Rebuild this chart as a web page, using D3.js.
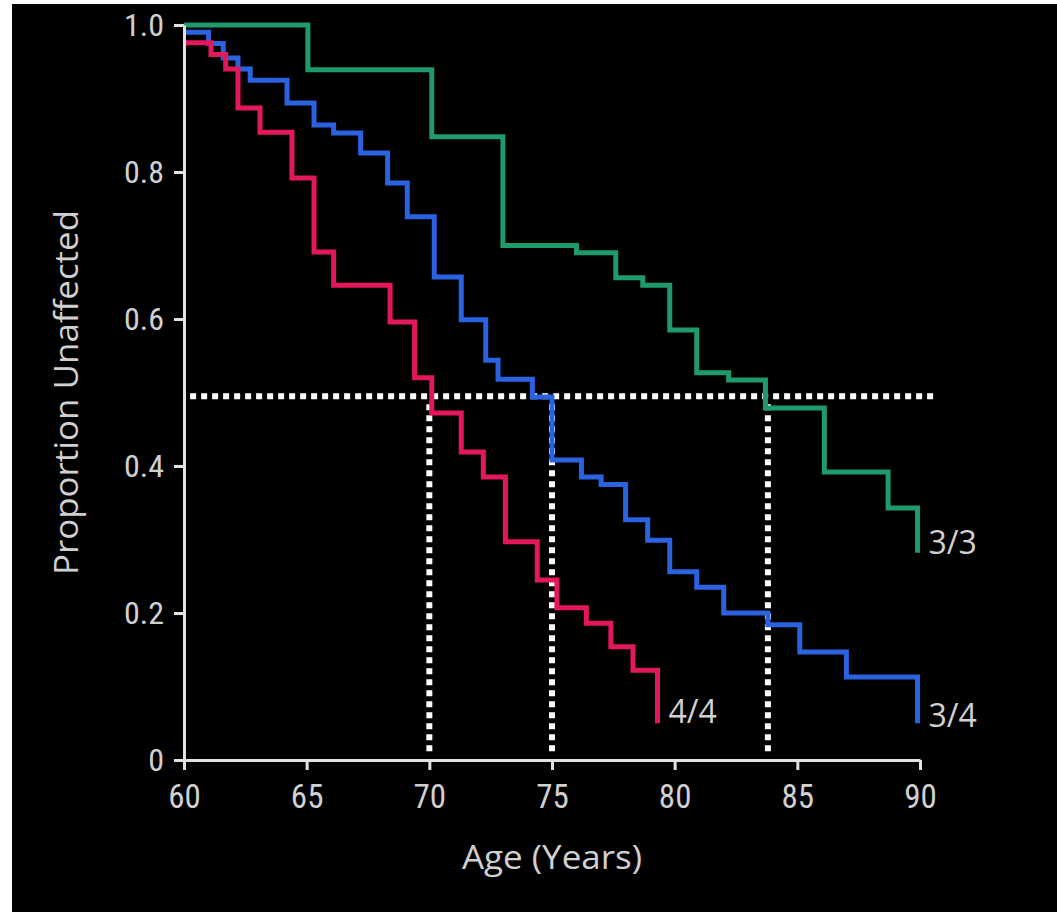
<!DOCTYPE html>
<html>
<head>
<meta charset="utf-8">
<script src="https://cdn.jsdelivr.net/npm/d3@7"></script>
<style>
  body { margin: 0; background: #fff; }
  svg { display: block; }
  .tick text { font-family: "Liberation Sans Narrow", "Roboto Condensed", "DejaVu Sans Condensed", sans-serif; fill: #d0d0d0; }
  .label { font-family: "Open Sans", "Noto Sans", sans-serif; fill: #d0d0d0; }
</style>
</head>
<body>
<div class="visholder"></div>
<script>
let width = 1057,
    height = 916;

// Kaplan-Meier style step data: age at which the proportion steps, new proportion
const ages44 = [60, 61.1, 61.7, 62.2, 63.1, 64.4, 65.3, 66.1, 68.4, 69.4, 70.1, 71.3, 72.2, 73.1, 74.4, 75.2, 76.4, 77.4, 78.3, 79.3];
const prop44 = [0.976, 0.96, 0.94, 0.887, 0.854, 0.792, 0.691, 0.646, 0.596, 0.52, 0.472, 0.419, 0.385, 0.297, 0.245, 0.207, 0.186, 0.154, 0.122, 0.05];

const ages34 = [60, 61.0, 61.6, 62.2, 62.7, 64.2, 65.3, 66.1, 67.2, 68.3, 69.1, 70.2, 71.3, 72.3, 72.8, 74.2, 75.0, 76.2, 77.0, 78.0, 78.9, 79.8, 80.9, 82.0, 83.8, 85.1, 87.0, 89.9];
const prop34 = [0.99, 0.975, 0.955, 0.94, 0.925, 0.894, 0.864, 0.853, 0.826, 0.785, 0.739, 0.657, 0.599, 0.544, 0.518, 0.494, 0.408, 0.385, 0.375, 0.327, 0.299, 0.256, 0.235, 0.2, 0.184, 0.147, 0.113, 0.05];

const ages33 = [60, 65.05, 70.1, 73.0, 76.0, 77.6, 78.7, 79.8, 80.9, 82.2, 83.7, 86.1, 88.7, 89.9];
const prop33 = [1.0, 0.939, 0.848, 0.70, 0.69, 0.656, 0.646, 0.585, 0.527, 0.517, 0.479, 0.392, 0.343, 0.282];

const seriesNames = ["4/4", "3/4", "3/3"];
const colors = ["#e3185a", "#2a62e0", "#1f9a6c"];

const xTicks = [60, 65, 70, 75, 80, 85, 90];
const yTicks = [0, 0.2, 0.4, 0.6, 0.8, 1.0];

// median ages, read where each curve crosses the dotted half line
const halfLevel = 0.495;
const medianAges = [70, 75, 83.8];

var series = [
    { name: seriesNames[0], color: colors[0], values: ages44.map((a, i) => [a, prop44[i]]) },
    { name: seriesNames[1], color: colors[1], values: ages34.map((a, i) => [a, prop34[i]]) },
    { name: seriesNames[2], color: colors[2], values: ages33.map((a, i) => [a, prop33[i]]) }
];

var svg = d3.select(".visholder")
    .append("svg")
    .attr("width", width)
    .attr("height", height);

svg.append("rect")
    .attr("x", 12)
    .attr("y", 4)
    .attr("width", width - 12)
    .attr("height", 908)
    .attr("fill", "#000");

var x = d3.scaleLinear().domain([60, 90]).range([184, 920]);
var y = d3.scaleLinear().domain([0, 1]).range([760, 25]);

// dotted guide lines
svg.append("line")
    .attr("x1", x(60.25))
    .attr("x2", x(90.6))
    .attr("y1", y(halfLevel))
    .attr("y2", y(halfLevel))
    .attr("stroke", "#fff")
    .attr("stroke-width", 6)
    .attr("stroke-dasharray", "6,5");

svg.selectAll(".median")
    .data(medianAges)
    .enter()
    .append("line")
    .attr("class", "median")
    .attr("x1", d => x(d))
    .attr("x2", d => x(d))
    .attr("y1", y(halfLevel) + 8)
    .attr("y2", y(0.005))
    .attr("stroke", "#fff")
    .attr("stroke-width", 6)
    .attr("stroke-dasharray", "6,5");

var line = d3.line()
    .x(d => x(d[0]))
    .y(d => y(d[1]))
    .curve(d3.curveStepAfter);

svg.selectAll(".curve")
    .data(series.slice().reverse())
    .enter()
    .append("path")
    .attr("class", "curve")
    .attr("d", d => line(d.values))
    .attr("fill", "none")
    .attr("stroke", d => d.color)
    .attr("stroke-width", 5);

// axes
var xAxis = d3.axisBottom(x).tickValues(xTicks).tickSize(10).tickSizeOuter(0).tickFormat(d3.format("d"));
var yAxis = d3.axisLeft(y).tickValues(yTicks).tickSize(10).tickSizeOuter(0)
    .tickFormat(d => d === 0 ? "0" : d3.format(".1f")(d));

var gx = svg.append("g")
    .attr("transform", `translate(0, ${y(0)})`)
    .call(xAxis);
var gy = svg.append("g")
    .attr("transform", `translate(${x(60)}, 0)`)
    .call(yAxis);

[gx, gy].forEach(function (g) {
    g.select(".domain").attr("stroke", "#e2e2e2").attr("stroke-width", 3);
    g.selectAll(".tick line").attr("stroke", "#e2e2e2").attr("stroke-width", 3);
});
gx.selectAll(".tick text").attr("y", 12).attr("dy", "1.1em").style("font-size", "33px");
gy.selectAll(".tick text").attr("x", -20).style("font-size", "32px");

// end labels
var endLabels = [
    { name: seriesNames[0], at: [79.3, 0.065] },
    { name: seriesNames[1], at: [89.9, 0.06] },
    { name: seriesNames[2], at: [89.9, 0.295] }
];
svg.selectAll(".endlabel")
    .data(endLabels)
    .enter()
    .append("text")
    .attr("class", "label endlabel")
    .attr("x", d => x(d.at[0]) + 11)
    .attr("y", d => y(d.at[1]))
    .attr("dy", "0.35em")
    .style("font-size", "32px")
    .text(d => d.name);

svg.append("text")
    .attr("class", "label")
    .attr("x", x(75))
    .attr("y", 869)
    .attr("text-anchor", "middle")
    .attr("textLength", 180)
    .attr("lengthAdjust", "spacingAndGlyphs")
    .style("font-size", "32px")
    .text("Age (Years)");

svg.append("text")
    .attr("class", "label")
    .attr("transform", `translate(78, ${y(0.5)}) rotate(-90)`)
    .attr("text-anchor", "middle")
    .attr("textLength", 365)
    .attr("lengthAdjust", "spacingAndGlyphs")
    .style("font-size", "32px")
    .text("Proportion Unaffected");
</script>
</body>
</html>
